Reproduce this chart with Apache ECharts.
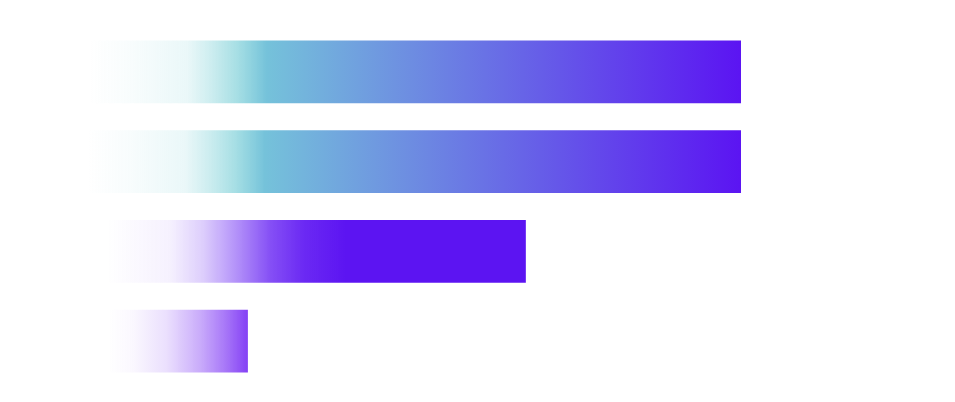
<!DOCTYPE html>
<html>
<head>
<meta charset="utf-8">
<script src="https://cdn.jsdelivr.net/npm/echarts@6/dist/echarts.min.js"></script>
<style>
html,body{margin:0;padding:0;background:#fff;}
#main{width:955px;height:402px;}
</style>
</head>
<body>
<div id="main"></div>
<script>
// Data
const categories = ['Item 1', 'Item 2', 'Item 3', 'Item 4'];
const barStarts = [0.4, 0, 3.1, 3.3];
const barEnds = [100, 100, 67.1, 24.6];

// Gradient styles per bar
function grad(stops) {
  return new echarts.graphic.LinearGradient(0, 0, 1, 0, stops.map(s => ({offset: s[0], color: s[1]})));
}
const gradCyan = [
  [0, 'rgba(115,205,212,0)'],
  [0.065, 'rgba(115,205,212,0.05)'],
  [0.15, 'rgba(115,205,212,0.15)'],
  [0.187, 'rgba(115,205,212,0.36)'],
  [0.225, 'rgba(115,204,213,0.62)'],
  [0.272, 'rgba(117,194,218,1)'],
  [1, '#5b14f2']
];
const gradPurple = [
  [0, 'rgba(92,20,242,0)'],
  [0.15, 'rgba(92,20,242,0.06)'],
  [0.23, 'rgba(92,20,242,0.21)'],
  [0.31, 'rgba(92,20,242,0.47)'],
  [0.39, 'rgba(92,20,242,0.75)'],
  [0.47, 'rgba(92,20,242,0.91)'],
  [0.57, 'rgba(92,20,242,1)'],
  [1, 'rgba(92,20,242,1)']
];
const gradViolet = [
  [0, 'rgba(132,64,245,0)'],
  [0.18, 'rgba(132,64,245,0.04)'],
  [0.42, 'rgba(132,64,245,0.17)'],
  [0.66, 'rgba(132,64,245,0.44)'],
  [0.85, 'rgba(132,64,245,0.73)'],
  [1, 'rgba(132,64,245,1)']
];
const barGradients = [gradCyan, gradCyan, gradPurple, gradViolet];

const chart = echarts.init(document.getElementById('main'));
chart.setOption({
  animation: false,
  grid: {left: 87, right: 214, top: 27, bottom: 16},
  xAxis: {type: 'value', min: 0, max: 100, show: false},
  yAxis: {type: 'category', data: categories, inverse: true, show: false},
  series: [
    {
      type: 'bar',
      stack: 'total',
      silent: true,
      barWidth: '70%',
      itemStyle: {color: 'rgba(0,0,0,0)'},
      data: barStarts
    },
    {
      type: 'bar',
      stack: 'total',
      barWidth: '70%',
      data: barEnds.map((v, i) => ({
        value: v - barStarts[i],
        itemStyle: {color: grad(barGradients[i])}
      }))
    }
  ]
});
</script>
</body>
</html>
